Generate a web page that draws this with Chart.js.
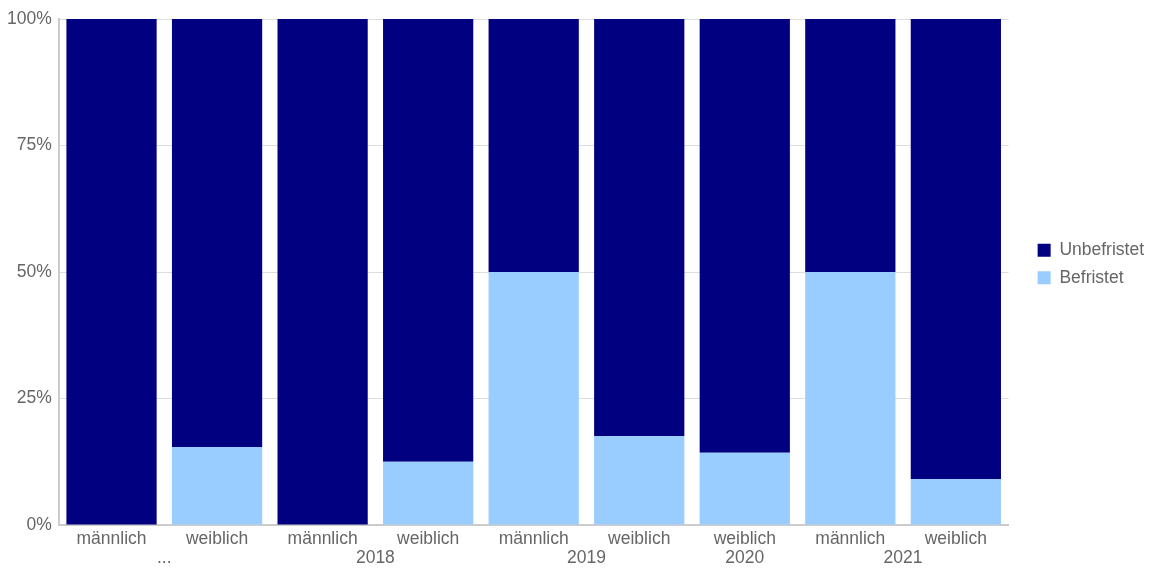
<!DOCTYPE html>
<html>
<head>
<meta charset="utf-8">
<script src="https://cdn.jsdelivr.net/npm/chart.js@4"></script>
<style>
  html, body { margin: 0; padding: 0; background: #fff; }
  #wrap { width: 1152px; height: 568px; }
</style>
</head>
<body>
<div id="wrap"><canvas id="chart"></canvas></div>
<script>
const categories = ['männlich', 'weiblich', 'männlich', 'weiblich', 'männlich', 'weiblich', 'weiblich', 'männlich', 'weiblich'];
const groupLabels = ['...', '2018', '2019', '2020', '2021'];
const groupSizes = [2, 2, 2, 1, 2];
const befristet = [0, 15.4, 0, 12.5, 50, 17.6, 14.3, 50, 9.1];
const unbefristet = [100, 84.6, 100, 87.5, 50, 82.4, 85.7, 50, 90.9];
const yTicks = [0, 25, 50, 75, 100];

Chart.defaults.font.family = 'Arial, "Liberation Sans", sans-serif';
Chart.defaults.font.size = 17.5;
Chart.defaults.color = '#666';

// second row of x labels (years), centred under their bars
const groupRow = {
    id: 'groupRow',
    afterDraw(chart) {
        const x = chart.scales.x;
        const ctx = chart.ctx;
        ctx.save();
        ctx.font = '17.5px Arial, "Liberation Sans", sans-serif';
        ctx.fillStyle = '#666';
        ctx.textAlign = 'center';
        ctx.textBaseline = 'middle';
        let start = 0;
        groupLabels.forEach((label, i) => {
            const end = start + groupSizes[i] - 1;
            const cx = (x.getPixelForValue(start) + x.getPixelForValue(end)) / 2;
            ctx.fillText(label, cx, x.top + 33);
            start = end + 1;
        });
        ctx.restore();
    }
};

// leave a gap between plot and legend
const legendGap = {
    id: 'legendGap',
    beforeInit(chart) {
        const fit = chart.legend.fit;
        chart.legend.fit = function () {
            fit.call(this);
            this.width += 17;
        };
    },
    afterLayout(chart) {
        chart.legend.left += 19;
        chart.legend.top -= 16;
    }
};

new Chart(document.getElementById('chart'), {
    type: 'bar',
    data: {
        labels: categories,
        datasets: [{
            label: 'Befristet',
            data: befristet,
            backgroundColor: '#99ccff',
            categoryPercentage: 1,
            barPercentage: 0.855
        }, {
            label: 'Unbefristet',
            data: unbefristet,
            backgroundColor: '#000080',
            categoryPercentage: 1,
            barPercentage: 0.855
        }]
    },
    options: {
        responsive: true,
        maintainAspectRatio: false,
        animation: false,
        layout: {
            padding: { top: 19, left: 0, right: 0, bottom: 0 }
        },
        scales: {
            x: {
                stacked: true,
                grid: { display: false, drawTicks: false },
                border: { color: '#ccc', width: 2 },
                ticks: { padding: 4, maxRotation: 0, autoSkip: false },
                afterFit(scale) {
                    scale.height += 14;
                }
            },
            y: {
                stacked: true,
                min: 0,
                max: 100,
                afterBuildTicks(scale) {
                    scale.ticks = yTicks.map(v => ({ value: v }));
                },
                grid: { color: '#ddd', drawTicks: false },
                border: { color: '#ccc', width: 2 },
                ticks: {
                    padding: 7,
                    callback: v => v + '%'
                }
            }
        },
        plugins: {
            legend: {
                position: 'right',
                fullSize: false,
                reverse: true,
                labels: {
                    boxWidth: 13,
                    boxHeight: 13,
                    padding: 10
                }
            },
            tooltip: { enabled: false }
        }
    },
    plugins: [groupRow, legendGap]
});
</script>
</body>
</html>
